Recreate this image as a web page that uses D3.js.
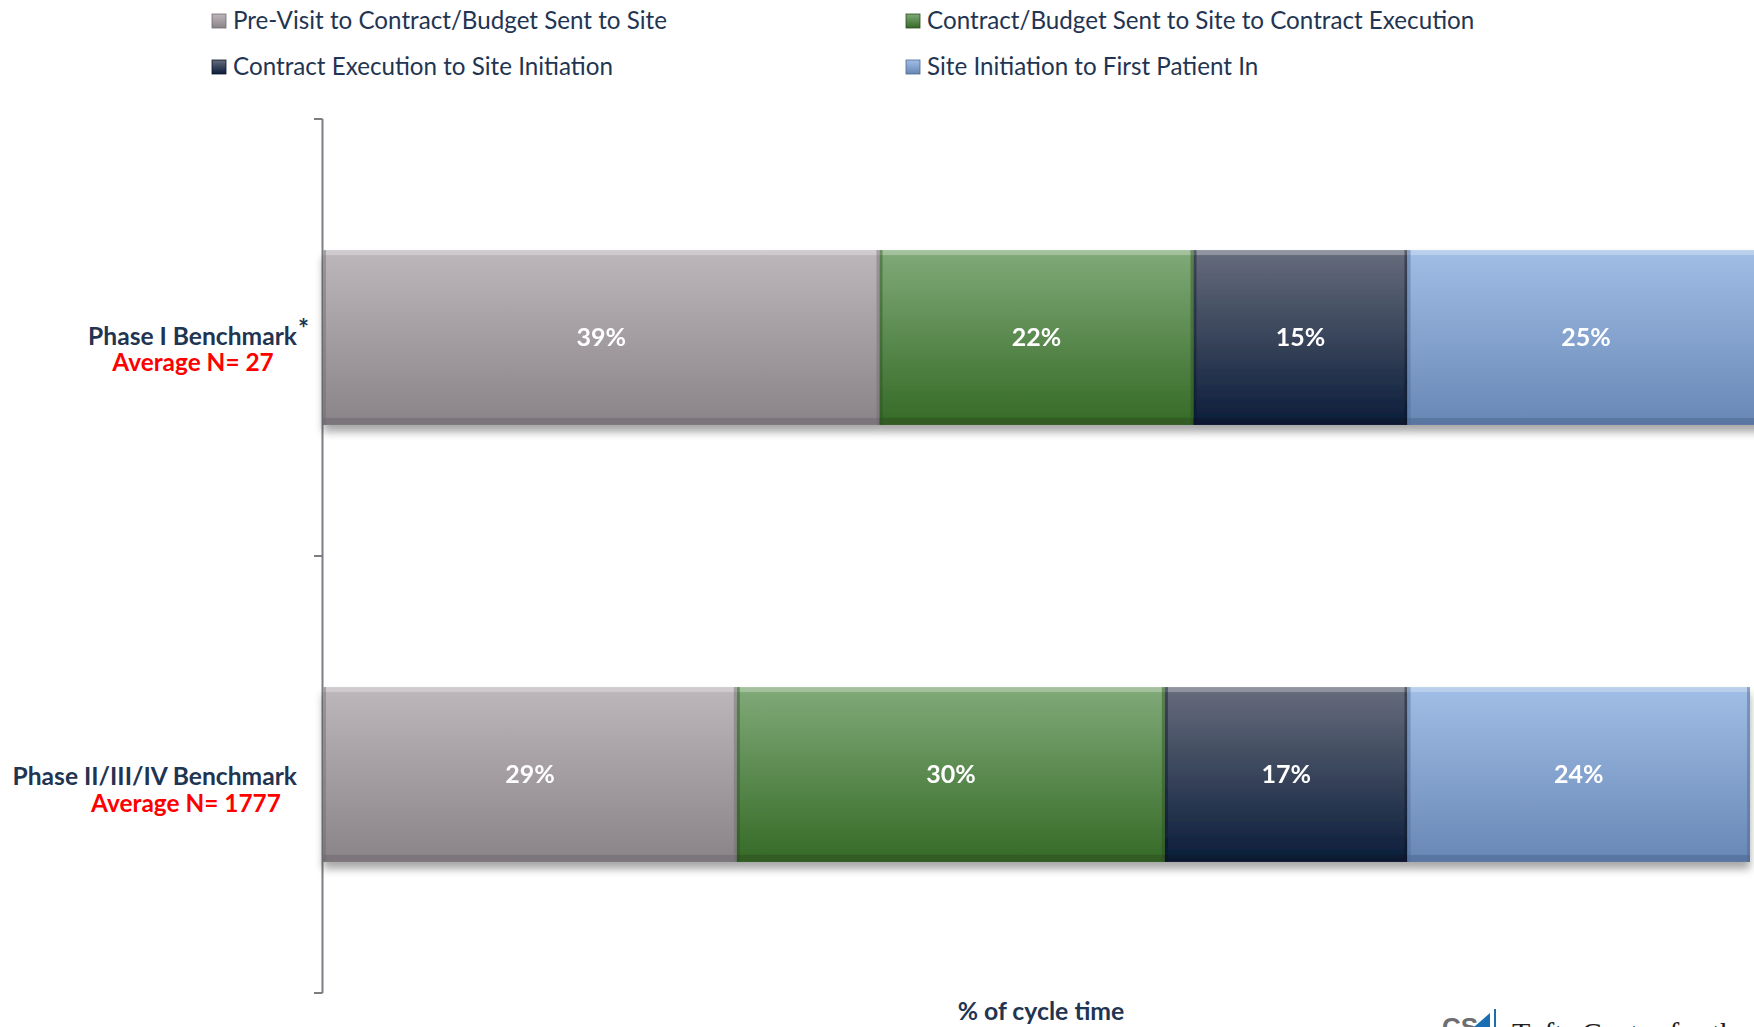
<!DOCTYPE html>
<html>
<head>
<meta charset="utf-8">
<script src="https://cdn.jsdelivr.net/npm/d3@7"></script>
<style>
  html, body { margin: 0; padding: 0; background: #fff; overflow: hidden; }
  svg { display: block; font-family: Lato, "Open Sans", sans-serif; }
</style>
</head>
<body>
<svg id="chart" width="1754" height="1027"></svg>
<script>
// Stage names (stack order, left to right)
const stages = [
  "Pre-Visit to Contract/Budget Sent to Site",
  "Contract/Budget Sent to Site to Contract Execution",
  "Contract Execution to Site Initiation",
  "Site Initiation to First Patient In"
];
// Benchmarks (rows, top to bottom)
const benchmarks = ["Phase I Benchmark", "Phase II/III/IV Benchmark"];
const sampleSizes = ["Average N= 27", "Average N= 1777"];
// Share of cycle time (%) per stage, one array per benchmark
const phaseI = [39, 22, 15, 25];
const phaseIIIV = [29, 30, 17, 24];
const axisTitle = "% of cycle time";

const seriesValues = [phaseI, phaseIIIV];

// Gradient stops (top, bottom) and edge colours per stage
const stageFill = [
  ["#bdb7bc", "#8a8489"],
  ["#80aa78", "#356a27"],
  ["#666c7c", "#0b1d3a"],
  ["#a0bee6", "#6887b5"]
];
const stageEdge = ["#6f6a70", "#2b4f20", "#0a1628", "#4d6890"];

const svg = d3.select("#chart");
const defs = svg.append("defs");

stageFill.forEach((c, i) => {
  const g = defs.append("linearGradient")
    .attr("id", "grad" + i).attr("x1", 0).attr("y1", 0).attr("x2", 0).attr("y2", 1);
  g.append("stop").attr("offset", "0%").attr("stop-color", c[0]);
  g.append("stop").attr("offset", "100%").attr("stop-color", c[1]);
});

// Soft shadow under the bars
const shadow = defs.append("filter").attr("id", "shadow")
  .attr("x", "-5%").attr("y", "-20%").attr("width", "110%").attr("height", "150%");
shadow.append("feGaussianBlur").attr("in", "SourceAlpha").attr("stdDeviation", 4).attr("result", "b");
shadow.append("feOffset").attr("in", "b").attr("dy", 7).attr("result", "o");
shadow.append("feComponentTransfer").attr("in", "o").attr("result", "s")
  .append("feFuncA").attr("type", "linear").attr("slope", 0.35);
const merge = shadow.append("feMerge");
merge.append("feMergeNode").attr("in", "s");
merge.append("feMergeNode").attr("in", "SourceGraphic");

// Scales
const x = d3.scaleLinear().domain([0, 100]).range([323, 1750]);
const y = d3.scaleBand().domain(benchmarks).range([119, 993])
  .paddingInner(0.6).paddingOuter(0.3);

// Stack the segments
const rows = benchmarks.map((b, i) => {
  let acc = 0;
  return stages.map((s, j) => {
    const v = seriesValues[i][j];
    const seg = { bench: b, stage: j, value: v, x0: acc, x1: acc + v };
    acc += v;
    return seg;
  });
});

// Category axis: spine with ticks at band boundaries
const axisG = svg.append("g");
const [r0, r1] = y.range();
axisG.append("line")
  .attr("x1", x(0) - 0.5).attr("x2", x(0) - 0.5)
  .attr("y1", r0).attr("y2", r1)
  .attr("stroke", "#7b7e82").attr("stroke-width", 2);
d3.range(benchmarks.length + 1).forEach(k => {
  const ty = r0 + k * (r1 - r0) / benchmarks.length;
  axisG.append("line")
    .attr("x1", x(0) - 9).attr("x2", x(0) - 0.5)
    .attr("y1", ty).attr("y2", ty)
    .attr("stroke", "#7b7e82").attr("stroke-width", 2);
});

// Bars
const barG = svg.append("g");
rows.forEach(row => {
  const g = barG.append("g").attr("filter", "url(#shadow)");
  const segs = g.selectAll("g.seg").data(row).join("g").attr("class", "seg");
  const h = y.bandwidth();
  segs.append("rect")
    .attr("x", d => x(d.x0)).attr("y", d => y(d.bench))
    .attr("width", d => x(d.x1) - x(d.x0)).attr("height", h)
    .attr("fill", d => `url(#grad${d.stage})`);
  // bevel: light top edge
  segs.append("rect")
    .attr("x", d => x(d.x0)).attr("y", d => y(d.bench))
    .attr("width", d => x(d.x1) - x(d.x0)).attr("height", 5)
    .attr("fill", "#ffffff").attr("opacity", 0.28);
  // bevel: dark bottom edge
  segs.append("rect")
    .attr("x", d => x(d.x0)).attr("y", d => y(d.bench) + h - 7)
    .attr("width", d => x(d.x1) - x(d.x0)).attr("height", 7)
    .attr("fill", d => stageEdge[d.stage]).attr("opacity", 0.55);
  // bevel: dark left/right edges
  segs.append("rect")
    .attr("x", d => x(d.x0)).attr("y", d => y(d.bench))
    .attr("width", 3).attr("height", h)
    .attr("fill", d => stageEdge[d.stage]).attr("opacity", 0.45);
  segs.append("rect")
    .attr("x", d => x(d.x1) - 3).attr("y", d => y(d.bench))
    .attr("width", 3).attr("height", h)
    .attr("fill", d => stageEdge[d.stage]).attr("opacity", 0.45);
  // value labels
  segs.append("text")
    .attr("x", d => (x(d.x0) + x(d.x1)) / 2)
    .attr("y", d => y(d.bench) + h / 2)
    .attr("dy", "0.35em")
    .attr("text-anchor", "middle")
    .attr("fill", "#ffffff")
    .attr("font-weight", 700)
    .attr("font-size", 25)
    .text(d => d.value + "%");
});

// Category labels
const labelG = svg.append("g");
benchmarks.forEach((b, i) => {
  const cy = y(b) + y.bandwidth() / 2;
  const isFirst = i === 0;
  labelG.append("text")
    .attr("x", 297).attr("y", isFirst ? 345 : cy + 10)
    .attr("text-anchor", "end")
    .attr("fill", "#1f3552").attr("font-weight", 700).attr("font-size", 24.6)
    .text(b);
  if (isFirst) {
    labelG.append("text")
      .attr("x", 298).attr("y", 338)
      .attr("fill", "#1f3552").attr("font-weight", 700).attr("font-size", 26)
      .text("*");
  }
  labelG.append("text")
    .attr("x", isFirst ? 193 : 186).attr("y", isFirst ? 371 : cy + 37)
    .attr("text-anchor", "middle")
    .attr("fill", "#ff0000").attr("font-weight", 700).attr("font-size", 24.4)
    .text(sampleSizes[i]);
});

// Legend (two columns, two rows)
const legendPos = [[212, 29], [906, 29], [212, 75], [906, 75]];
const legendG = svg.append("g");
stages.forEach((s, i) => {
  const [lx, ly] = legendPos[i];
  legendG.append("rect")
    .attr("x", lx).attr("y", ly - 15).attr("width", 14).attr("height", 14)
    .attr("fill", `url(#grad${i})`)
    .attr("stroke", stageEdge[i]).attr("stroke-width", 0.8);
  legendG.append("text")
    .attr("x", lx + 21).attr("y", ly)
    .attr("fill", "#1f3552").attr("font-size", 24.2)
    .text(s);
});

// Axis title
svg.append("text")
  .attr("x", 1041).attr("y", 1020)
  .attr("text-anchor", "middle")
  .attr("fill", "#1f3552").attr("font-weight", 700).attr("font-size", 24.8)
  .text(axisTitle);

// Tufts CSDD mark in the lower right corner
const logo = svg.append("g");
logo.append("text")
  .attr("x", 1442).attr("y", 1036)
  .attr("fill", "#6d6e71").attr("font-weight", 700).attr("font-size", 26)
  .attr("font-family", "Liberation Sans, sans-serif")
  .text("CS");
logo.append("path")
  .attr("d", "M1474,1027 L1490,1013 L1490,1027 Z")
  .attr("fill", "#1a6fb4");
logo.append("line")
  .attr("x1", 1495).attr("x2", 1495).attr("y1", 1009).attr("y2", 1027)
  .attr("stroke", "#1a6fb4").attr("stroke-width", 2);
logo.append("text")
  .attr("x", 1512).attr("y", 1043)
  .attr("fill", "#231f20").attr("font-size", 30)
  .attr("font-family", "Liberation Serif, serif")
  .text("Tufts Center for the");
</script>
</body>
</html>
